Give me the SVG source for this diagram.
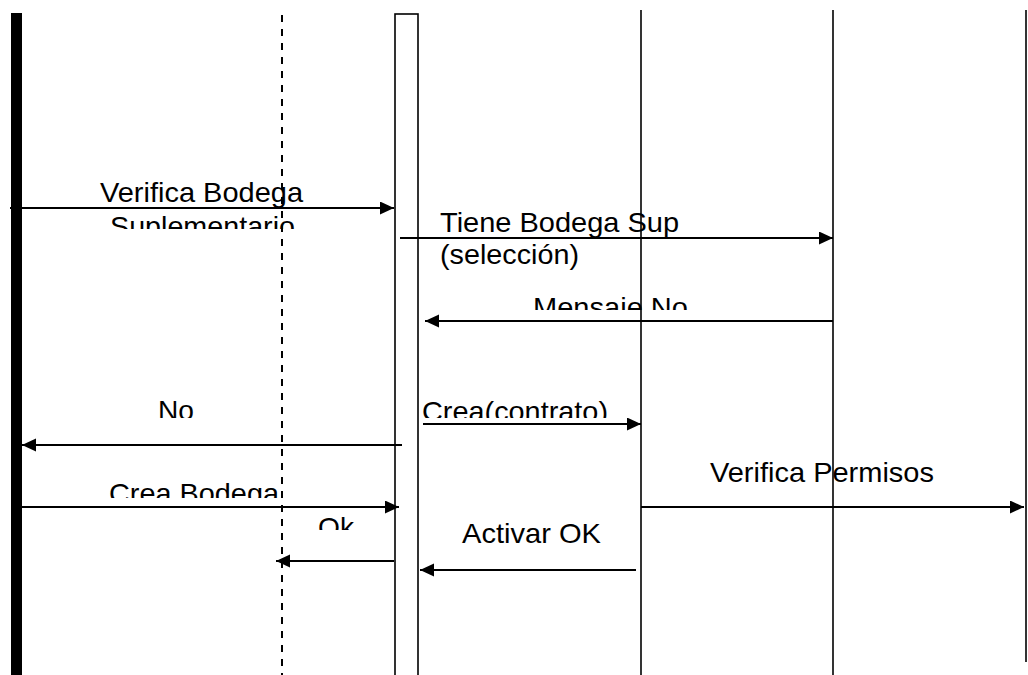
<svg xmlns="http://www.w3.org/2000/svg" width="1028" height="675" viewBox="0 0 1028 675">
  <style>
    .life { stroke: #000; stroke-width: 1.6; fill: none; }
    .msg { stroke: #000; stroke-width: 2; fill: none; marker-end: url(#ah); }
    text { font-family: "Liberation Sans", Arial, sans-serif; font-size: 28px; fill: #000; lengthAdjust: spacingAndGlyphs; }
  </style>
  <defs>
    <marker id="ah" markerUnits="userSpaceOnUse" markerWidth="15" markerHeight="14" refX="14" refY="6.5" orient="auto">
      <path d="M0,0 L14,6.5 L0,13 Z" fill="#000"/>
    </marker>
    <clipPath id="cSup"><rect x="0" y="0" width="1028" height="229"/></clipPath>
    <clipPath id="cMen"><rect x="0" y="0" width="1028" height="310"/></clipPath>
    <clipPath id="cNo"><rect x="0" y="0" width="1028" height="418"/></clipPath>
    <clipPath id="cCrea"><rect x="0" y="0" width="1028" height="498"/></clipPath>
    <clipPath id="cOk"><rect x="0" y="0" width="1028" height="530"/></clipPath>
  </defs>
  <rect width="1028" height="675" fill="#fff"/>

  <g id="actor-bar"><rect x="11" y="13" width="11" height="670" fill="#000"/></g>
  <g id="lifeline-dashed"><line x1="282" y1="15" x2="282" y2="675" stroke="#000" stroke-width="2" stroke-dasharray="7 7"/></g>
  <g id="activation"><rect x="395" y="14" width="23" height="680" class="life"/></g>
  <g id="lifeline-641"><line x1="641" y1="10" x2="641" y2="675" class="life"/></g>
  <g id="lifeline-833"><line x1="833" y1="10" x2="833" y2="675" class="life"/></g>
  <g id="lifeline-1026"><line x1="1026" y1="10" x2="1026" y2="662" class="life"/></g>

  <g id="connectors">
    <line x1="10" y1="208" x2="394" y2="208" class="msg"/>
    <line x1="400" y1="238" x2="833" y2="238" class="msg"/>
    <line x1="833" y1="321" x2="425" y2="321" class="msg"/>
    <line x1="423" y1="424" x2="641" y2="424" class="msg"/>
    <line x1="402" y1="445" x2="22" y2="445" class="msg"/>
    <line x1="22" y1="507" x2="399" y2="507" class="msg"/>
    <line x1="641" y1="507" x2="1024" y2="507" class="msg"/>
    <line x1="394" y1="561" x2="276" y2="561" class="msg"/>
    <line x1="636" y1="570" x2="420" y2="570" class="msg"/>
  </g>

  <g id="labels">
    <text x="100" y="202" textLength="203" lengthAdjust="spacingAndGlyphs">Verifica Bodega</text>
    <text x="110" y="236" textLength="185" lengthAdjust="spacingAndGlyphs" clip-path="url(#cSup)">Suplementario</text>
    <text x="440" y="232" textLength="239" lengthAdjust="spacingAndGlyphs">Tiene Bodega Sup</text>
    <text x="440" y="264" textLength="139" lengthAdjust="spacingAndGlyphs">(selección)</text>
    <text x="533" y="317" textLength="155" lengthAdjust="spacingAndGlyphs" clip-path="url(#cMen)">Mensaje No</text>
    <text x="158" y="420" textLength="36" lengthAdjust="spacingAndGlyphs" clip-path="url(#cNo)">No</text>
    <text x="422" y="421" textLength="186" lengthAdjust="spacingAndGlyphs" clip-path="url(#cNo)">Crea(contrato)</text>
    <text x="109" y="503" textLength="170" lengthAdjust="spacingAndGlyphs" clip-path="url(#cCrea)">Crea Bodega</text>
    <text x="710" y="482" textLength="224" lengthAdjust="spacingAndGlyphs">Verifica Permisos</text>
    <text x="318" y="537" textLength="36" lengthAdjust="spacingAndGlyphs" clip-path="url(#cOk)">Ok</text>
    <text x="462" y="543" textLength="139" lengthAdjust="spacingAndGlyphs">Activar OK</text>
  </g>
</svg>
